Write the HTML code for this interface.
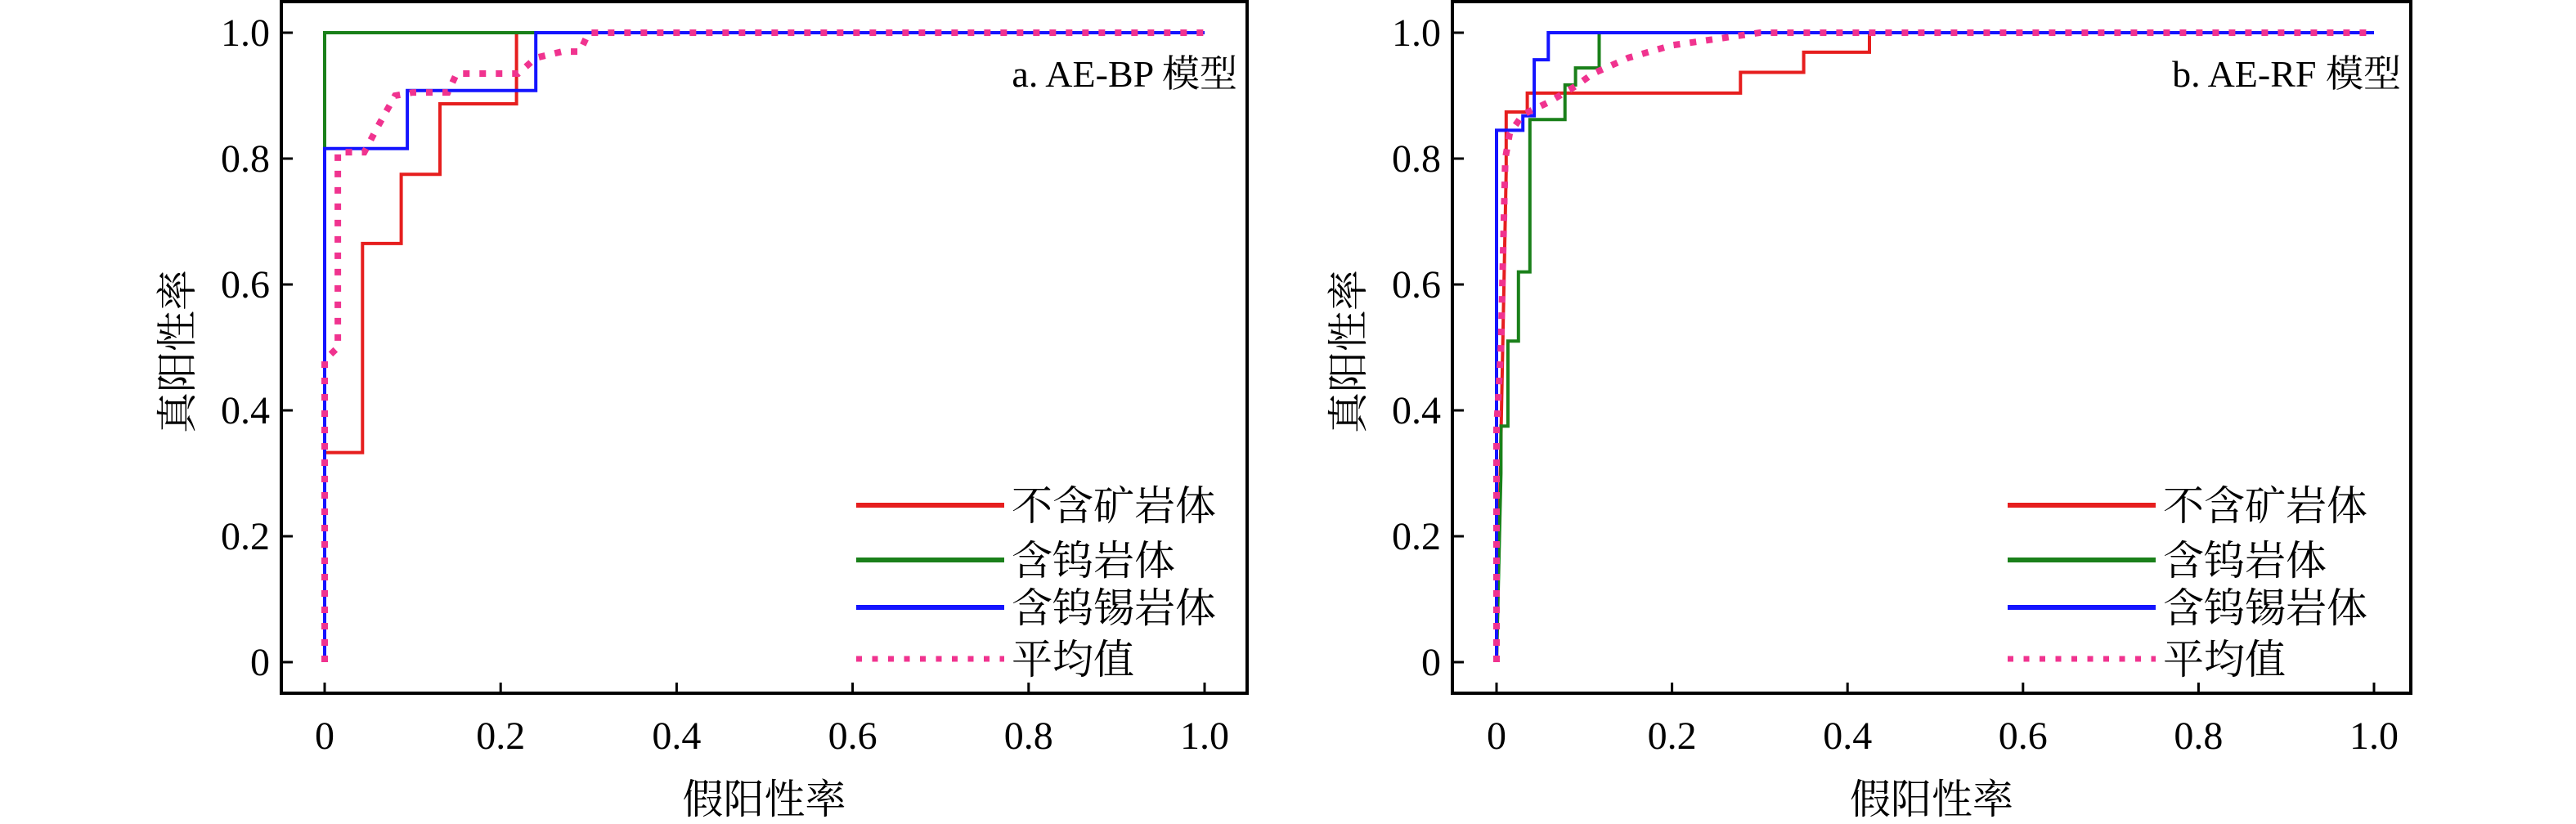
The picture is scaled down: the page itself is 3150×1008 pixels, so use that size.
<!DOCTYPE html>
<html><head><meta charset="utf-8"><style>
html,body{margin:0;padding:0;background:#fff;}
svg{display:block;}
text{font-family:"Liberation Serif","Noto Serif CJK SC",serif;fill:#000;}
</style></head><body>
<svg id="fig" width="3150" height="1008" viewBox="0 0 3150 1008" xmlns="http://www.w3.org/2000/svg"></svg>
<script>
// ---- data ----
const xTicks = [0, 0.2, 0.4, 0.6, 0.8, 1.0];
const xTickLabels = ["0", "0.2", "0.4", "0.6", "0.8", "1.0"];
const yTicks = [0, 0.2, 0.4, 0.6, 0.8, 1.0];
const yTickLabels = ["0", "0.2", "0.4", "0.6", "0.8", "1.0"];
const seriesNames = ["不含矿岩体", "含钨岩体", "含钨锡岩体", "平均值"];
// Panel a: AE-BP
const aRedX = [0, 0, 0.043, 0.043, 0.087, 0.087, 0.131, 0.131, 0.218, 0.218, 1];
const aRedY = [0, 0.333, 0.333, 0.665, 0.665, 0.775, 0.775, 0.887, 0.887, 1, 1];
const aGreenX = [0, 0, 1];
const aGreenY = [0, 1, 1];
const aBlueX = [0, 0, 0.094, 0.094, 0.24, 0.24, 1];
const aBlueY = [0, 0.816, 0.816, 0.908, 0.908, 1, 1];
const aMeanX = [0, 0, 0.015, 0.015, 0.045, 0.06, 0.08, 0.1, 0.14, 0.15, 0.22, 0.24, 0.27, 0.29, 0.3, 1];
const aMeanY = [0, 0.48, 0.5, 0.81, 0.81, 0.85, 0.9, 0.905, 0.905, 0.935, 0.935, 0.96, 0.97, 0.97, 1, 1];
// Panel b: AE-RF
const bRedX = [0, 0.011, 0.011, 0.035, 0.035, 0.278, 0.278, 0.35, 0.35, 0.425, 0.425, 1];
const bRedY = [0, 0.78, 0.874, 0.874, 0.904, 0.904, 0.937, 0.937, 0.969, 0.969, 1, 1];
const bGreenX = [0, 0.005, 0.005, 0.013, 0.013, 0.025, 0.025, 0.038, 0.038, 0.078, 0.078, 0.09, 0.09, 0.117, 0.117, 1];
const bGreenY = [0, 0.3, 0.375, 0.375, 0.51, 0.51, 0.62, 0.62, 0.862, 0.862, 0.917, 0.917, 0.944, 0.944, 1, 1];
const bBlueX = [0, 0, 0.03, 0.03, 0.043, 0.043, 0.059, 0.059, 1];
const bBlueY = [0, 0.845, 0.845, 0.868, 0.868, 0.957, 0.957, 1, 1];
const bMeanX = [0, 0, 0.005, 0.01, 0.015, 0.03, 0.06, 0.09, 0.11, 0.15, 0.2, 0.25, 0.3, 1];
const bMeanY = [0, 0.37, 0.5, 0.8, 0.84, 0.87, 0.89, 0.915, 0.935, 0.96, 0.98, 0.99, 1, 1];

const NS = "http://www.w3.org/2000/svg";
const svg = document.getElementById("fig");
function mk(tag, attrs, parent) {
  const e = document.createElementNS(NS, tag);
  for (const k in attrs) e.setAttribute(k, attrs[k]);
  (parent || svg).appendChild(e);
  return e;
}
const colors = ["#e61e1e", "#1a801a", "#1414ff", "#f0338f"];

function panel(p) {
  const g = mk("g", {});
  
  
  const sx = v => p.x0 + v * (p.x1 - p.x0);
  const sy = v => 810 - v * 770;
  // series
  const sets = [[p.red[0], p.red[1]], [p.green[0], p.green[1]], [p.blue[0], p.blue[1]], [p.mean[0], p.mean[1]]];
  const snames = ["red-series", "green-series", "blue-series", "mean-series"];
  sets.forEach((s, i) => {
    const pts = s[0].map((x, j) => sx(x).toFixed(1) + "," + sy(s[1][j]).toFixed(1)).join(" ");
    const pl = mk("polyline", {points: pts, fill: "none", stroke: colors[i],
      "stroke-width": i === 3 ? 8 : 4, "stroke-dasharray": i === 3 ? "8 12" : "none", "stroke-linejoin": "miter"}, g);
    
    
  });
  // frame
  const fr = mk("rect", {x: p.fl, y: 2, width: p.fr - p.fl, height: 848 - 2, fill: "none", stroke: "#000", "stroke-width": 4}, g);
  
  
  // x ticks
  xTicks.forEach((t, i) => {
    const x = sx(t);
    const l = mk("line", {x1: x, x2: x, y1: 848, y2: 835, stroke: "#000", "stroke-width": 3}, g);
    
    
    const tx = mk("text", {x: x, y: 916, "text-anchor": "middle", "font-size": 48}, g);
    
    
    tx.textContent = xTickLabels[i];
  });
  yTicks.forEach((t, i) => {
    const y = sy(t);
    const l = mk("line", {x1: p.fl, x2: p.fl + 14, y1: y, y2: y, stroke: "#000", "stroke-width": 3}, g);
    
    
    const tx = mk("text", {x: p.fl - 14, y: y + 16, "text-anchor": "end", "font-size": 48}, g);
    
    
    tx.textContent = yTickLabels[i];
  });
  // axis titles
  const xt = mk("text", {x: (p.fl + p.fr) / 2, y: 995, "text-anchor": "middle", "font-size": 50}, g);
  
  
  xt.textContent = "假阳性率";
  const yt = mk("text", {x: 0, y: 0, "text-anchor": "middle", "font-size": 50,
    transform: "translate(" + (p.fl - 110) + ",430) rotate(-90)"}, g);
  
  
  yt.textContent = "真阳性率";
  // panel title
  const tt = mk("text", {x: p.fr - 12, y: 106, "text-anchor": "end", "font-size": 46}, g);
  
  
  tt.textContent = p.title;
  // legend
  const rows = [618, 685, 743, 806];
  seriesNames.forEach((n, i) => {
    const ln = mk("line", {x1: p.lx, x2: p.lx + 181, y1: rows[i], y2: rows[i], stroke: colors[i],
      "stroke-width": i === 3 ? 7 : 6, "stroke-dasharray": i === 3 ? "7 12.5" : "none"}, g);
    
    
    const tx = mk("text", {x: p.lx + 190, y: rows[i] + 18, "font-size": 50}, g);
    
    
    tx.textContent = n;
  });
}
panel({name: "panel-a-ae-bp", x0: 397, x1: 1473, fl: 344, fr: 1525, lx: 1047, title: "a. AE-BP 模型",
  red: [aRedX, aRedY], green: [aGreenX, aGreenY], blue: [aBlueX, aBlueY], mean: [aMeanX, aMeanY]});
panel({name: "panel-b-ae-rf", x0: 1830, x1: 2903, fl: 1776, fr: 2948, lx: 2455, title: "b. AE-RF 模型",
  red: [bRedX, bRedY], green: [bGreenX, bGreenY], blue: [bBlueX, bBlueY], mean: [bMeanX, bMeanY]});
</script>
</body></html>
